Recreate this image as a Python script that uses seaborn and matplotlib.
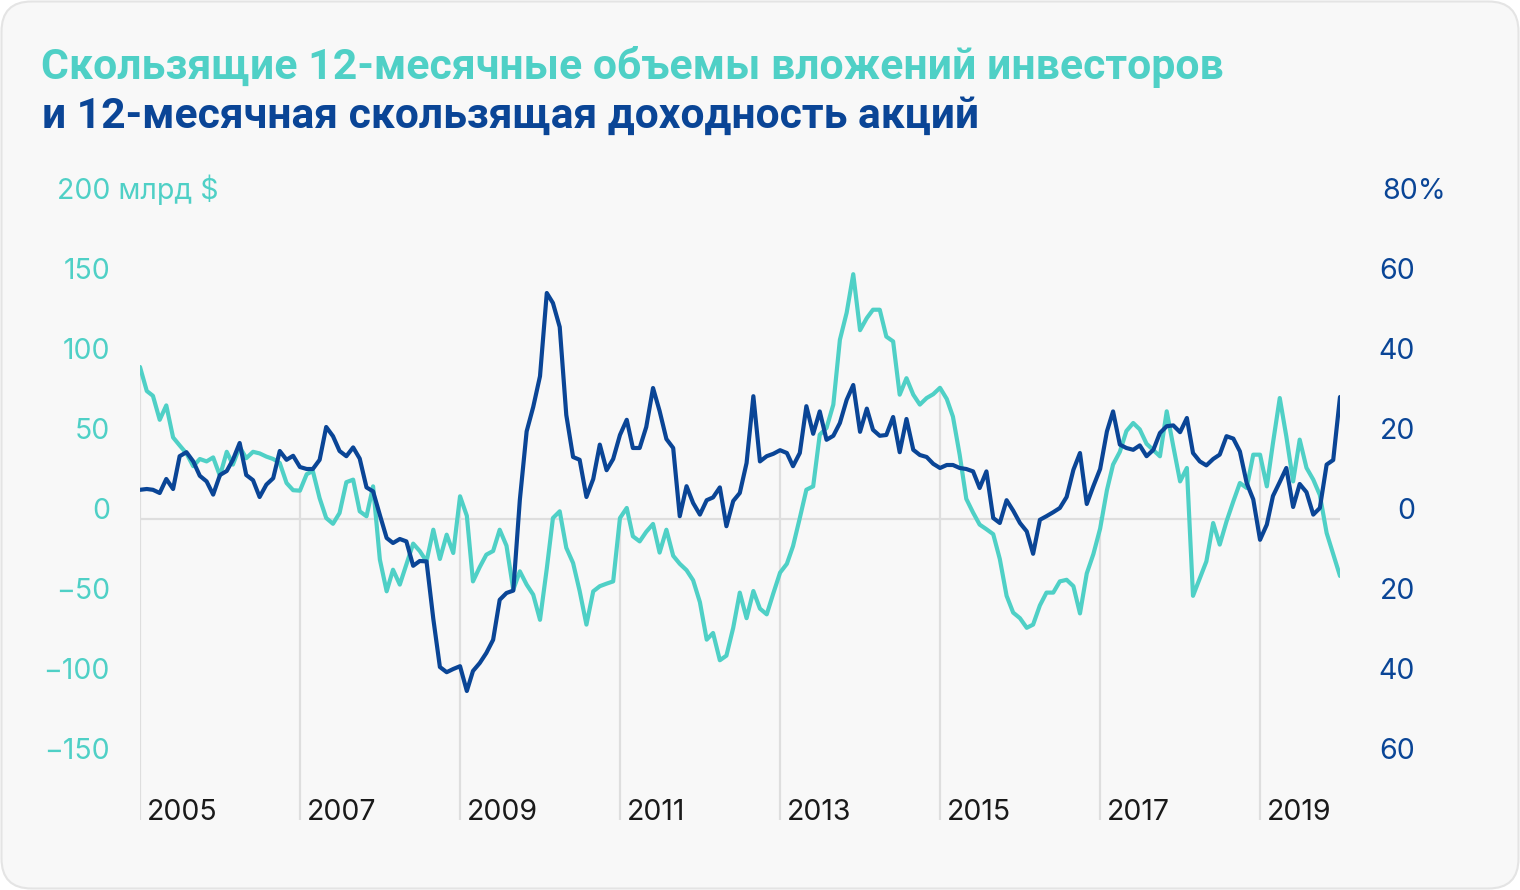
import numpy as np
import pandas as pd
import matplotlib
matplotlib.use("Agg")
import matplotlib.pyplot as plt
import seaborn as sns
from matplotlib.patches import FancyBboxPatch
from matplotlib.transforms import IdentityTransform, ScaledTranslation, blended_transform_factory

# ---------------- data ----------------
start_month = "2005-01-01"

# rolling 12-month investor flows, bn $ (left axis), monthly from Jan 2005
flows = [
    95, 80, 77, 62, 71, 51, 46, 41, 33, 37.5, 36, 38.5,
    27, 42, 34, 45, 38, 42, 41, 39, 37.5, 35, 22.5, 18,
    17.7, 28, 30, 13, 0.6, -3, 3.75, 23, 24.6, 4.8, 1.7, 20.4,
    -25.4, -45.2, -31.7, -41, -28.5, -15.4, -20, -26.5, -6.7, -25, -9.8, -21.25,
    14.2, 2, -39, -30, -22.3, -20, -6.7, -16.7, -44.2, -32.7, -41, -47.3,
    -63, -31, 0.6, 4.8, -18, -27.5, -45, -66, -45.2, -42, -40.4, -39,
    0.6, 6.9, -10.8, -14, -8, -3.1, -21, -6.7, -23, -28, -32, -38.3,
    -52, -75.4, -71.25, -88.3, -85.4, -68, -46, -62, -45, -56, -59.6, -46.5,
    -33.5, -28, -17, 0.6, 18.3, 20.4, 52.7, 56.9, 71.5, 112, 129, 153,
    118, 125.6, 130.8, 130.8, 114, 111, 77.7, 88, 77.7, 71.5, 75.6, 78,
    82, 75, 64, 40, 12.6, 4, -3.5, -6.4, -9.5, -25, -48, -58.5,
    -62, -68, -66, -54, -46, -46, -39, -38, -42, -59, -34, -22,
    -6, 18, 34, 42, 55, 60, 56, 47, 43, 39.2, 67.3, 45.4,
    23.5, 31.9, -48, -37, -26.5, -2.5, -16, -1.5, 11, 22.5, 19.4, 40.2,
    40.2, 20.4, 47.5, 75.6, 51.6, 23.5, 49.6, 32, 24.6, 15, -8.75, -22,
    -35.6,
]

# rolling 12-month stock return, % (right axis)
returns = [
    7.3, 7.5, 7.3, 6.5, 10, 7.5, 15.7, 16.7, 14.4, 10.8, 9.4, 6.1,
    11, 12, 14.8, 19, 11, 9.7, 5.5, 8.6, 10.2, 17, 14.8, 15.8,
    13, 12.5, 12.5, 14.8, 23, 20.7, 17, 15.7, 17.9, 15.1, 7.9, 6.9,
    1, -4.75, -6, -5, -5.6, -11.7, -10.5, -10.6, -25, -37, -38.3, -37.5,
    -36.8, -43, -38, -36, -33.5, -30.2, -20.2, -18.5, -17.9, 4.8, 21.9, 28,
    35.7, 56.5, 54, 48, 26, 15.5, 14.8, 5.5, 10, 18.6, 12.2, 15,
    21, 24.8, 17.75, 17.75, 23, 32.75, 27, 20, 17.75, 0.7, 8.2, 4,
    1.1, 4.7, 5.4, 7.9, -1.8, 4.5, 6.5, 14, 30.7, 14.4, 15.7, 16.3,
    17.2, 16.5, 13.2, 16.5, 28.2, 21.3, 26.9, 19.8, 20.8, 24, 29.8, 33.5,
    21.8, 27.6, 22.3, 20.8, 21, 25.5, 16.7, 25, 17.3, 16, 15.5, 13.8,
    12.75, 13.5, 13.5, 12.75, 12.5, 11.9, 7.75, 11.9, 0.25, -1, 4.7, 2.1,
    -1, -3.1, -8.7, -0.2, 0.7, 1.7, 2.75, 5.5, 12.3, 16.5, 3.75, 8.2,
    12.5, 21.9, 26.9, 18.6, 17.75, 17.3, 18.4, 15.7, 17.3, 21.5, 23.2, 23.4,
    21.7, 25.25, 16.5, 14.4, 13.4, 15, 16.1, 20.7, 20.1, 16.9, 9, 4.9,
    -5.2, -1.4, 5.75, 9.25, 12.75, 3, 8.75, 6.7, 1.1, 2.75, 13.6, 14.75,
    30.5,
]

year_labels = [2005, 2007, 2009, 2011, 2013, 2015, 2017, 2019]
left_ticks = [-150, -100, -50, 0, 50, 100, 150]
right_ticks = [-60, -40, -20, 0, 20, 40, 60]
left_top_label = "200 млрд $"
right_top_label = "80%"
title_line1 = "Скользящие 12-месячные объемы вложений инвесторов"
title_line2 = "и 12-месячная скользящая доходность акций"
# height (left-axis units) up to which each yearly gridline is drawn
grid_tops = [96, 18, 12, 0.6, 42, 80, 1, 39]

# ---------------- style ----------------
TEAL = "#4FD0C6"
BLUE = "#0A4596"
GRID = "#DEDEDE"
CARD = "#F8F8F8"
W, H = 1520, 890

sns.set_theme(style="white")
plt.rcParams["font.family"] = ["Roboto", "DejaVu Sans"]
TICK_FONT = ["Inter", "DejaVu Sans"]

dates = pd.date_range(start_month, periods=len(flows), freq="MS")
df = pd.DataFrame({"date": dates, "flows": flows, "returns": returns})

fig = plt.figure(figsize=(W / 100, H / 100), dpi=100)
fig.patch.set_facecolor("white")
card = FancyBboxPatch((1.5, 1.5), W - 3, H - 3,
                      boxstyle="round,pad=0,rounding_size=30",
                      transform=IdentityTransform(), facecolor=CARD,
                      edgecolor="#E4E4E4", lw=1.5, zorder=0)
fig.add_artist(card)

# axes: x 140..1340 px, y 190..820 px (from top)
ax = fig.add_axes([140 / W, (H - 820) / H, 1200 / W, 630 / H])
ax.set_facecolor("none")
y0_px = 519          # pixel row of zero
k_left = 1.6         # px per bn $
k_right = 4.0        # px per %
lo_l, hi_l = (y0_px - 820) / k_left, (y0_px - 190) / k_left
ax.set_ylim(lo_l, hi_l)
ax.set_xlim(dates[0], dates[-1])

ax2 = ax.twinx()
ax2.set_ylim(lo_l * k_left / k_right, hi_l * k_left / k_right)
ax2.set_xlim(dates[0], dates[-1])

for a in (ax, ax2):
    for s in a.spines.values():
        s.set_visible(False)
    a.grid(False)

# gridlines
year_dates = [pd.Timestamp(f"{y}-01-01") for y in year_labels]
ax.vlines(year_dates, lo_l, grid_tops, color=GRID, lw=1.6, zorder=0)
ax.hlines(0, dates[0], dates[-1], color=GRID, lw=1.6, zorder=0)

# lines
sns.lineplot(data=df, x="date", y="flows", ax=ax, color=TEAL, lw=3.0, zorder=3)
sns.lineplot(data=df, x="date", y="returns", ax=ax2, color=BLUE, lw=3.0, zorder=3)
ax.set_xlabel(""); ax.set_ylabel(""); ax2.set_xlabel(""); ax2.set_ylabel("")

FS = 20.5
# left ticks
ax.set_yticks(left_ticks)
ax.set_yticklabels([f"{v}".replace("-", "\u2212") for v in left_ticks])
ax.tick_params(axis="y", length=0, pad=30 * 0.72, labelsize=FS, labelcolor=TEAL)
for lab in ax.get_yticklabels():
    lab.set_va("baseline")
    lab.set_family(TICK_FONT)

# right ticks
ax2.set_yticks(right_ticks)
ax2.set_yticklabels([f"{abs(v)}" for v in right_ticks])
ax2.tick_params(axis="y", length=0, pad=75 * 0.72, labelsize=FS, labelcolor=BLUE)
for lab in ax2.get_yticklabels():
    lab.set_va("baseline")
    lab.set_ha("right")
    lab.set_family(TICK_FONT)

# x labels
ax.set_xticks([])
xt = blended_transform_factory(ax.transData, ax.transAxes) + ScaledTranslation(0.07, 0, fig.dpi_scale_trans)
for yd, yl in zip(year_dates, year_labels):
    ax.text(yd, 0, str(yl), transform=xt, ha="left", va="baseline",
            fontsize=FS, color="#1A1A1A", family=TICK_FONT)

# top axis captions
fig.text(57 / W, (H - 199) / H, left_top_label, ha="left", va="baseline",
         fontsize=FS, color=TEAL, family=TICK_FONT)
fig.text(1382 / W, (H - 199) / H, right_top_label, ha="left", va="baseline",
         fontsize=FS, color=BLUE, family=TICK_FONT)

# title, fitted to the reference widths
renderer = fig.canvas.get_renderer()
def fitted(x, y, s, color, width_px):
    t = fig.text(x / W, (H - y) / H, s, ha="left", va="baseline",
                 fontsize=30, fontweight="bold", color=color)
    w = t.get_window_extent(renderer).width
    t.set_fontsize(30 * width_px / w)
    return t

fitted(41, 79, title_line1, TEAL, 1181)
fitted(42, 128, title_line2, BLUE, 936)

fig.savefig("out.png", dpi=100, facecolor="white")
